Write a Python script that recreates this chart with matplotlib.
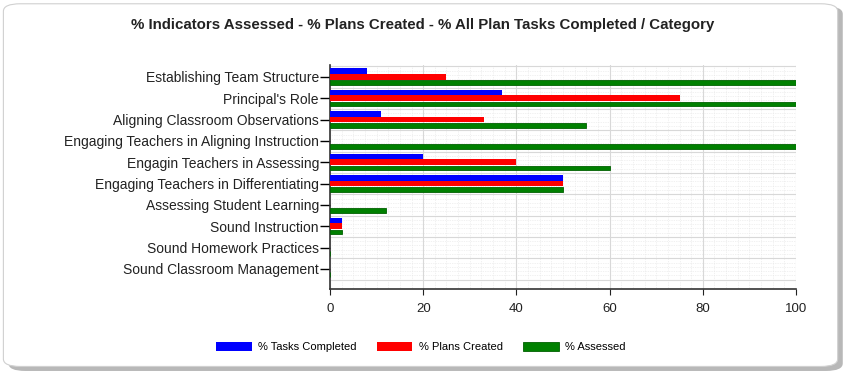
import numpy as np
import matplotlib
matplotlib.use("Agg")
import matplotlib.pyplot as plt
from matplotlib.patches import FancyBboxPatch
from matplotlib.ticker import MultipleLocator

plt.rcParams['font.family'] = ['Liberation Sans', 'DejaVu Sans']

categories = [
    "Establishing Team Structure",
    "Principal's Role",
    "Aligning Classroom Observations",
    "Engaging Teachers in Aligning Instruction",
    "Engagin Teachers in Assessing",
    "Engaging Teachers in Differentiating",
    "Assessing Student Learning",
    "Sound Instruction",
    "Sound Homework Practices",
    "Sound Classroom Management",
]
tasks_completed = [8, 37, 11, 0, 20, 50, 0, 2.5, 0, 0]
plans_created = [25, 75, 33, 0, 40, 50, 0, 2.5, 0, 0]
assessed = [100, 100, 55, 100, 60, 50, 12, 2.5, 0, 0]

fig = plt.figure(figsize=(8.47, 3.77), dpi=100)

# rounded panel with shadow
shadow = FancyBboxPatch((0.01, 0.016), 0.985, 0.967, boxstyle="round,pad=0,rounding_size=0.02",
                        transform=fig.transFigure, facecolor="#b8b8b8", edgecolor="none", zorder=-3)
panel = FancyBboxPatch((0.004, 0.028), 0.985, 0.962, boxstyle="round,pad=0,rounding_size=0.02",
                       transform=fig.transFigure, facecolor="white", edgecolor="#d0d0d0", lw=0.8, zorder=-2)
fig.patches.extend([shadow, panel])

ax = fig.add_axes([0.3896, 0.2334, 0.5502, 0.5942])
ax.set_facecolor("none")

y = np.arange(len(categories))
h = 0.27
ax.barh(y - h, tasks_completed, height=h, color="#0000ff", label="% Tasks Completed", zorder=3)
ax.barh(y, plans_created, height=h, color="#ff0000", label="% Plans Created", zorder=3)
ax.barh(y + h, assessed, height=h * 0.85, color="#008000", edgecolor="#006000", lw=0.6,
        label="% Assessed", zorder=3)

ax.set_xlim(0, 100)
ax.set_ylim(len(categories) - 0.06, -0.56)
ax.set_yticks(y)
ax.set_yticklabels(categories, fontsize=10, color="#222222")
ax.xaxis.set_major_locator(MultipleLocator(20))
ax.xaxis.set_minor_locator(MultipleLocator(2.5))
ax.set_yticks(np.arange(-0.5, len(categories), 1), minor=True)
ax.tick_params(axis="x", labelsize=9.5, colors="#222222", length=4, pad=6)
ax.tick_params(axis="x", which="minor", length=0)
ax.tick_params(axis="y", length=7, width=1, pad=1)
ax.tick_params(axis="y", which="minor", length=0)

ax.grid(True, which="major", axis="x", color="#d8d8d8", lw=0.8, zorder=0)
ax.grid(True, which="minor", axis="x", color="#e4e4e4", lw=0.5, ls=(0, (1, 1.5)), zorder=0)
ax.grid(True, which="minor", axis="y", color="#d8d8d8", lw=0.8, zorder=0)
for yy in y:
    for off in (-0.3, -0.1, 0.1, 0.3):
        ax.axhline(yy + off, color="#e4e4e4", lw=0.5, ls=(0, (1, 1.5)), zorder=0)

for side in ("top", "right"):
    ax.spines[side].set_visible(False)
ax.spines["left"].set_color("#333333")
ax.spines["bottom"].set_color("#333333")
ax.spines["left"].set_linewidth(1.2)
ax.spines["bottom"].set_linewidth(1.2)

fig.text(0.499, 0.935, "% Indicators Assessed - % Plans Created - % All Plan Tasks Completed / Category",
         ha="center", va="center", fontsize=10.8, fontweight="bold", color="#222222")

fig.legend(loc="center", bbox_to_anchor=(0.497, 0.08), ncol=3, frameon=False, fontsize=8,
           handlelength=3.2, handleheight=0.9, columnspacing=1.8, handletextpad=0.6)

fig.savefig("out.png", dpi=100)
